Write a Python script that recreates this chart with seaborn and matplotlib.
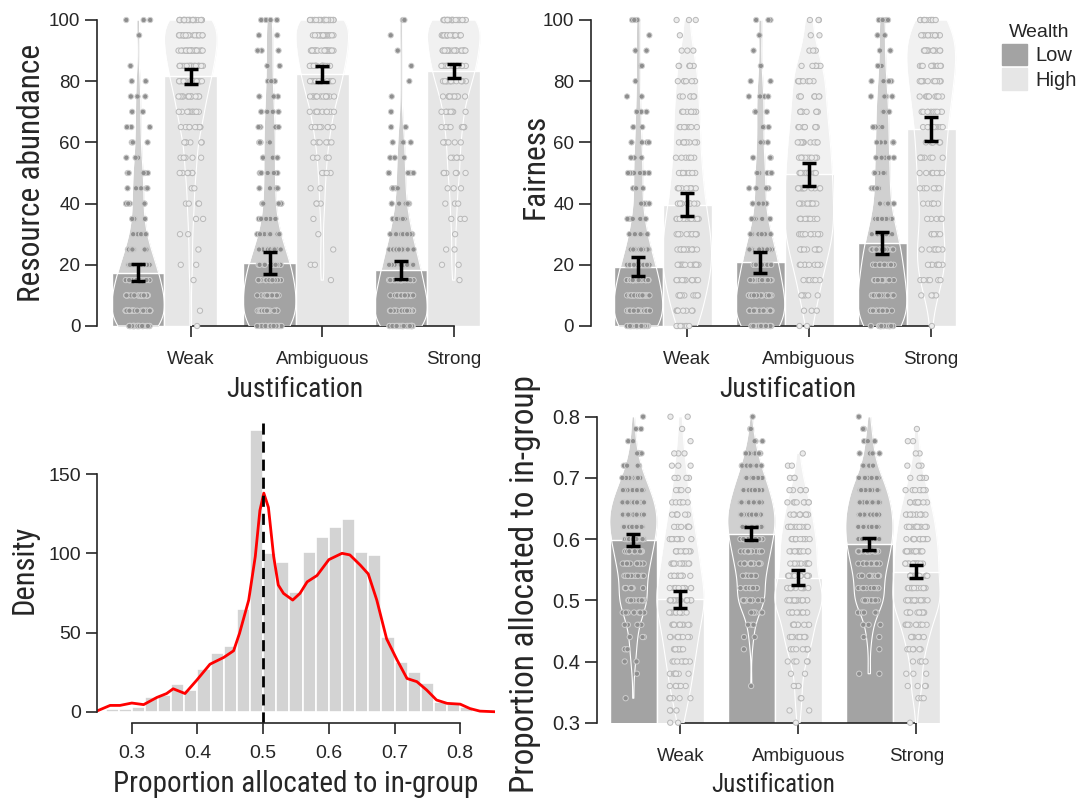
import numpy as np
import pandas as pd
import matplotlib
matplotlib.use('Agg')
import matplotlib.pyplot as plt
import seaborn as sns
from matplotlib.patches import Patch

sns.set_style('ticks')
plt.rcParams['font.family'] = ['Roboto Condensed', 'Liberation Sans', 'DejaVu Sans']
NUM_FONT = ['Liberation Sans', 'DejaVu Sans']

justification = ['Weak', 'Ambiguous', 'Strong']
wealth = ['Low', 'High']

# bar heights (means) and error bar half-widths, order Weak / Ambiguous / Strong
res_mean_low = [17.4, 20.5, 18.2]
res_mean_high = [81.6, 82.5, 83.3]
res_ci_low = [2.8, 3.6, 2.9]
res_ci_high = [2.5, 2.6, 2.3]

fair_mean_low = [19.4, 20.8, 27.1]
fair_mean_high = [39.7, 49.6, 64.4]
fair_ci_low = [3.2, 3.5, 3.7]
fair_ci_high = [3.7, 3.75, 3.8]

prop_mean_low = [0.598, 0.609, 0.592]
prop_mean_high = [0.502, 0.537, 0.547]
prop_ci_low = [0.010, 0.011, 0.010]
prop_ci_high = [0.014, 0.012, 0.011]

levels_100 = np.arange(0, 101, 5)
res_weak_low = [30, 28, 25, 22, 18, 12, 8, 5, 6, 5, 6, 3, 3, 3, 2, 3, 2, 1, 0, 1, 3]
res_weak_high = [1, 1, 0, 1, 2, 1, 2, 2, 4, 2, 6, 5, 6, 10, 12, 14, 18, 20, 24, 22, 30]
res_amb_low = [28, 22, 20, 20, 18, 12, 8, 5, 5, 4, 5, 4, 5, 4, 4, 3, 3, 2, 3, 2, 4]
res_amb_high = [0, 0, 0, 1, 2, 1, 1, 1, 3, 2, 4, 4, 6, 8, 10, 14, 18, 20, 24, 22, 30]
res_str_low = [30, 26, 24, 20, 18, 14, 10, 8, 5, 4, 5, 3, 4, 2, 1, 1, 1, 1, 1, 1, 2]
res_str_high = [0, 0, 0, 1, 2, 2, 1, 3, 3, 3, 6, 5, 6, 8, 8, 12, 16, 20, 22, 22, 30]

fair_weak_low = [30, 24, 22, 20, 16, 12, 8, 6, 4, 3, 6, 3, 4, 2, 3, 2, 1, 2, 2, 1, 3]
fair_weak_high = [8, 8, 10, 12, 14, 14, 12, 12, 10, 8, 10, 6, 8, 7, 7, 6, 6, 6, 3, 1, 3]
fair_amb_low = [28, 22, 22, 18, 16, 14, 10, 5, 5, 4, 6, 3, 3, 3, 3, 4, 2, 1, 1, 1, 3]
fair_amb_high = [2, 3, 5, 6, 8, 10, 12, 12, 12, 11, 12, 10, 11, 9, 9, 8, 8, 8, 3, 2, 3]
fair_str_low = [24, 20, 18, 18, 15, 15, 12, 8, 6, 5, 7, 5, 5, 5, 5, 4, 4, 2, 2, 2, 4]
fair_str_high = [1, 0, 4, 6, 8, 8, 6, 5, 6, 6, 8, 7, 8, 8, 10, 10, 12, 12, 14, 12, 12]

levels_prop = np.linspace(0.30, 0.80, 26)
prop_weak_low = [0, 0, 1, 0, 1, 2, 3, 3, 5, 8, 14, 10, 12, 14, 16, 18, 20, 20, 18, 14, 10, 6, 4, 2, 2, 1]
prop_weak_high = [2, 3, 5, 6, 7, 8, 9, 10, 11, 12, 16, 12, 12, 11, 10, 9, 8, 7, 6, 4, 4, 3, 3, 1, 1, 2]
prop_amb_low = [0, 0, 0, 1, 0, 0, 1, 2, 3, 6, 14, 10, 12, 14, 16, 18, 20, 20, 18, 15, 12, 8, 6, 3, 2, 1]
prop_amb_high = [1, 2, 2, 3, 2, 5, 8, 10, 10, 12, 20, 14, 12, 12, 12, 12, 10, 9, 8, 5, 3, 2, 1, 0, 0, 0]
prop_str_low = [0, 0, 0, 0, 2, 0, 1, 2, 3, 6, 14, 10, 12, 14, 16, 18, 18, 18, 16, 14, 10, 6, 4, 3, 2, 1]
prop_str_high = [1, 0, 3, 4, 3, 4, 6, 8, 10, 12, 18, 14, 14, 14, 14, 13, 12, 11, 9, 7, 5, 3, 2, 2, 1, 0]

# histogram of proportion allocated (bins of 0.02 from 0.26 to 0.82)
hist_heights = [2, 2, 3, 9.5, 10.5, 17.5, 14, 27, 37, 41.5, 65, 178, 100, 94.5,
                75.5, 101, 110.5, 116.5, 121.5, 101, 99, 47, 31.5, 25, 18, 6, 5, 3]
# density curve
kde_x = [0.247, 0.267, 0.282, 0.300, 0.318, 0.338, 0.353, 0.363, 0.381, 0.399,
         0.419, 0.440, 0.455, 0.464, 0.478, 0.488, 0.495, 0.501, 0.508, 0.516,
         0.523, 0.531, 0.545, 0.556, 0.567, 0.582, 0.600, 0.620, 0.632, 0.648,
         0.660, 0.673, 0.688, 0.704, 0.719, 0.734, 0.749, 0.764, 0.780, 0.800,
         0.815, 0.830, 0.853]
kde_y = [0.5, 4, 4, 5.5, 4.5, 9, 11.5, 14.5, 11.5, 20,
         30, 34.3, 38.5, 49.5, 70.5, 98, 127, 138, 129, 98,
         80, 74.7, 70.5, 74.7, 82, 86, 96, 100, 99, 92.5,
         87, 70.5, 46, 32.6, 21, 19, 13.7, 7.4, 5.3, 4.8,
         2, 0.4, 0]

BAR = {'Low': '#a3a3a3', 'High': '#e6e6e6'}
VIOLIN = {'Low': '#d0d0d0', 'High': '#f1f1f1'}
DOTS = {'Low': '#8e8e8e', 'High': '#ececec'}


def long_table(levels, groups):
    parts = []
    for (j, w), counts in groups.items():
        parts.append(pd.DataFrame({'Justification': j, 'Wealth': w,
                                   'value': np.repeat(levels, counts)}))
    return pd.concat(parts, ignore_index=True)


def summary_table(m_low, m_high, c_low, c_high):
    return pd.DataFrame({'Justification': justification * 2,
                         'Wealth': ['Low'] * 3 + ['High'] * 3,
                         'mean': m_low + m_high,
                         'ci': c_low + c_high})


def tick_font(ax, axis, size):
    labels = ax.get_yticklabels() if axis == 'y' else ax.get_xticklabels()
    for lab in labels:
        lab.set_fontfamily(NUM_FONT)
        lab.set_fontsize(size)


def group_panel(ax, raw, summ, ylim, yticks, xlim):
    common = dict(x='Justification', hue='Wealth', order=justification,
                  hue_order=wealth, ax=ax)
    sns.violinplot(data=raw, y='value', palette=VIOLIN, cut=0, inner=None,
                   linewidth=0, density_norm='width', bw_adjust=0.7,
                   saturation=1, legend=False, zorder=1, **common)
    sns.barplot(data=summ, y='mean', palette=BAR, saturation=1, errorbar=None,
                legend=False, zorder=2, **common)
    sns.violinplot(data=raw, y='value', palette={'Low': 'white', 'High': 'white'},
                   fill=False, cut=0, inner=None, linewidth=0.8,
                   density_norm='width', bw_adjust=0.7, legend=False, zorder=3,
                   **common)
    n0 = len(ax.collections)
    sns.stripplot(data=raw, y='value', palette=DOTS, dodge=True, jitter=0.19,
                  size=3.8, linewidth=0.7, edgecolor='#cfcfcf', legend=False,
                  zorder=4, clip_on=False, **common)
    for coll in ax.collections[n0:]:
        fc = coll.get_facecolor()
        if len(fc) and fc[0][0] > 0.8:
            coll.set_edgecolor('#b8b8b8')
    for bar in ax.patches:
        h = bar.get_height()
        row = summ.loc[np.isclose(summ['mean'], h)]
        if len(row):
            ax.errorbar(bar.get_x() + bar.get_width() / 2, h, yerr=row['ci'].iloc[0],
                        fmt='none', ecolor='black', elinewidth=2.5, capsize=5,
                        capthick=2.5, zorder=6)
    ax.set_xlim(xlim)
    ax.set_ylim(ylim)
    ax.set_yticks(yticks)
    ax.set_xticks([i + 0.2 for i in range(3)], justification)
    sns.despine(ax=ax)
    ax.spines['left'].set_bounds(yticks[0], yticks[-1])
    ax.spines['bottom'].set_bounds(0.2, 2.2)
    ax.tick_params(axis='y', length=8.5, width=1.2)
    ax.tick_params(axis='x', length=8, width=1.2, pad=10)
    tick_font(ax, 'x', 13.5)
    for s in ax.spines.values():
        s.set_linewidth(1.2)


res_raw = long_table(levels_100, {
    ('Weak', 'Low'): res_weak_low, ('Weak', 'High'): res_weak_high,
    ('Ambiguous', 'Low'): res_amb_low, ('Ambiguous', 'High'): res_amb_high,
    ('Strong', 'Low'): res_str_low, ('Strong', 'High'): res_str_high})
fair_raw = long_table(levels_100, {
    ('Weak', 'Low'): fair_weak_low, ('Weak', 'High'): fair_weak_high,
    ('Ambiguous', 'Low'): fair_amb_low, ('Ambiguous', 'High'): fair_amb_high,
    ('Strong', 'Low'): fair_str_low, ('Strong', 'High'): fair_str_high})
prop_raw = long_table(levels_prop, {
    ('Weak', 'Low'): prop_weak_low, ('Weak', 'High'): prop_weak_high,
    ('Ambiguous', 'Low'): prop_amb_low, ('Ambiguous', 'High'): prop_amb_high,
    ('Strong', 'Low'): prop_str_low, ('Strong', 'High'): prop_str_high})

W, H = 1084, 808
fig = plt.figure(figsize=(W / 100, H / 100), dpi=100)
ax1 = fig.add_axes([97 / W, 1 - 326 / H, 389.6 / W, 306 / H])
ax2 = fig.add_axes([590.7 / W, 1 - 326 / H, 371 / W, 306 / H])
ax3 = fig.add_axes([97 / W, 1 - 723 / H, 398 / W, 304.5 / H])
ax4 = fig.add_axes([596.7 / W, 1 - 722.7 / H, 349.3 / W, 306 / H])

# top left: resource abundance
group_panel(ax1, res_raw, summary_table(res_mean_low, res_mean_high, res_ci_low, res_ci_high),
            (0, 100), [0, 20, 40, 60, 80, 100], (-0.513, 2.45))
ax1.set_ylabel('Resource abundance', fontsize=22.6)
ax1.yaxis.set_label_coords(-0.131, 0.5)
ax1.set_xlabel('Justification', fontsize=20)
ax1.xaxis.set_label_coords(0.508, -0.165)
tick_font(ax1, 'y', 13.5)

# top right: fairness
group_panel(ax2, fair_raw, summary_table(fair_mean_low, fair_mean_high, fair_ci_low, fair_ci_high),
            (0, 100), [0, 20, 40, 60, 80, 100], (-0.59, 2.45))
ax2.set_ylabel('Fairness', fontsize=22.6)
ax2.yaxis.set_label_coords(-0.112, 0.521)
ax2.set_xlabel('Justification', fontsize=20)
ax2.xaxis.set_label_coords(0.532, -0.165)
tick_font(ax2, 'y', 13.5)
ax2.legend(handles=[Patch(color=BAR['Low']), Patch(color=BAR['High'])],
           labels=wealth, title='Wealth', loc='upper left',
           bbox_to_anchor=(1002 / W, 1 - 24 / H), bbox_transform=fig.transFigure,
           frameon=False, handlelength=1.25, handleheight=1.25,
           handletextpad=0.4, labelspacing=0.15, borderaxespad=0, borderpad=0,
           prop={'family': NUM_FONT, 'size': 14.5},
           title_fontproperties={'family': NUM_FONT, 'size': 14})

# bottom right: proportion allocated by group
group_panel(ax4, prop_raw, summary_table(prop_mean_low, prop_mean_high, prop_ci_low, prop_ci_high),
            (0.3, 0.8), [0.3, 0.4, 0.5, 0.6, 0.7, 0.8], (-0.51, 2.45))
ax4.set_yticklabels(['0.3', '0.4', '0.5', '0.6', '0.7', '0.8'])
ax4.set_ylabel('Proportion allocated to in-group', fontsize=24)
ax4.yaxis.set_label_coords(-0.16, 0.453)
ax4.set_xlabel('Justification', fontsize=18)
ax4.xaxis.set_label_coords(0.505, -0.165)
tick_font(ax4, 'y', 14.5)

# bottom left: histogram with density curve
sns.histplot(x=np.arange(0.27, 0.82, 0.02)[:len(hist_heights)], weights=hist_heights,
             bins=len(hist_heights), binrange=(0.26, 0.82), color='#d3d3d3',
             edgecolor='white', linewidth=1.2, alpha=1, ax=ax3)
sns.lineplot(x=kde_x, y=kde_y, color='red', linewidth=2, sort=True, ax=ax3)
ax3.axvline(0.5, color='black', linestyle=(0, (4, 2.5)), linewidth=2)
ax3.set_xlim(0.247, 0.853)
ax3.set_ylim(-7.1, 185.1)
ax3.set_yticks([0, 50, 100, 150])
ax3.set_xticks([0.3, 0.4, 0.5, 0.6, 0.7, 0.8])
ax3.set_xlabel('Proportion allocated to in-group', fontsize=21)
ax3.xaxis.set_label_coords(0.5, -0.155)
ax3.set_ylabel('Density', fontsize=22)
ax3.yaxis.set_label_coords(-0.146, 0.506)
sns.despine(ax=ax3)
ax3.spines['left'].set_bounds(0, 150)
ax3.spines['bottom'].set_bounds(0.3, 0.8)
ax3.tick_params(axis='both', length=8, width=1.2)
ax3.tick_params(axis='x', pad=8)
tick_font(ax3, 'x', 14)
tick_font(ax3, 'y', 14)
for s in ax3.spines.values():
    s.set_linewidth(1.2)

fig.savefig('out.png', dpi=100)
